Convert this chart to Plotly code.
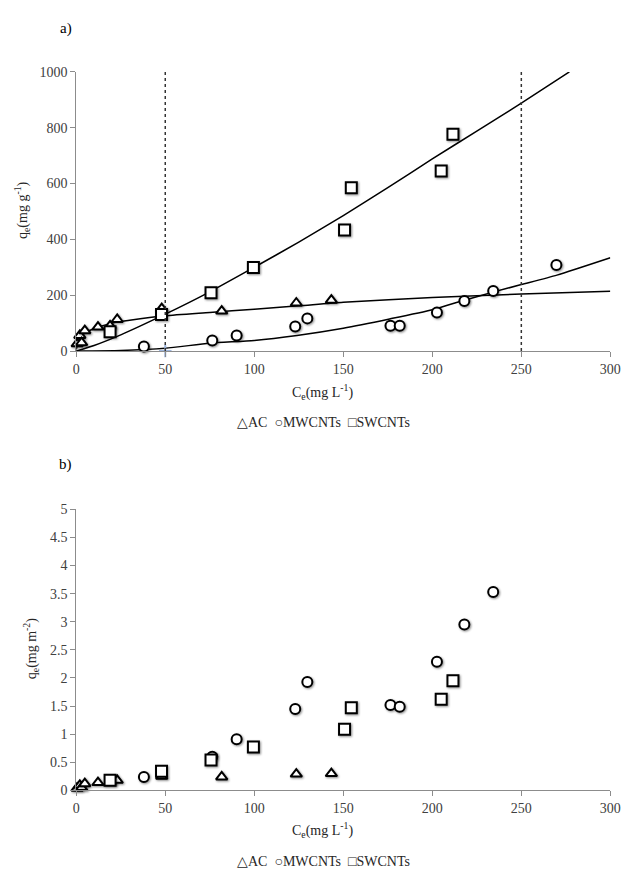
import plotly.graph_objects as go

# ---------------- data ----------------
# Panel a) qe (mg g-1) vs Ce (mg L-1); panel b) qe (mg m-2) vs Ce (mg L-1)
ac_ce = [0.5, 2, 3, 4.8, 12.2, 19, 23, 48, 81.7, 123.6, 143.3]
ac_qe_g = [26, 56, 30, 73, 86, 90, 113, 152, 143, 172, 182]
ac_qe_m2 = [0.04, 0.09, 0.05, 0.12, 0.14, 0.15, 0.18, 0.25, 0.24, 0.29, 0.30]

mw_ce = [38, 76.4, 90.1, 123, 129.8, 176.5, 181.7, 202.6, 218, 234.2, 269.7]
mw_qe_g = [16, 38, 56, 88, 117, 91, 91, 138, 179, 215, 308]
mw_qe_m2 = [0.24, 0.60, 0.91, 1.45, 1.93, 1.52, 1.49, 2.29, 2.95, 3.53, None]

sw_ce = [19, 47.9, 75.7, 99.5, 150.7, 154.5, 205, 211.6]
sw_qe_g = [69, 131, 209, 299, 434, 585, 645, 777]
sw_qe_m2 = [0.18, 0.34, 0.54, 0.77, 1.09, 1.47, 1.62, 1.95]

# fitted curves read from panel a)
sw_fit_x = [0, 10, 25, 50, 75, 100, 125, 150, 175, 200, 225, 250, 277]
sw_fit_y = [0, 20, 58, 132, 212, 300, 390, 485, 585, 688, 788, 888, 1000]
ac_fit_x = [0, 1, 2, 5, 10, 20, 30, 50, 75, 100, 125, 150, 200, 250, 300]
ac_fit_y = [5, 30, 45, 66, 80, 100, 110, 126, 138, 150, 162, 175, 192, 204, 214]
mw_fit_x = [0, 25, 50, 75, 100, 124, 150, 176, 200, 218, 234, 250, 270, 300]
mw_fit_y = [0, 2, 10, 28, 38, 56, 82, 115, 148, 182, 211, 238, 272, 334]

guide_x = [50, 250]
x_ticks = [0, 50, 100, 150, 200, 250, 300]
ya_ticks = [0, 200, 400, 600, 800, 1000]
yb_ticks = [0, 0.5, 1, 1.5, 2, 2.5, 3, 3.5, 4, 4.5, 5]
yb_labels = ["0", "0.5", "1", "1.5", "2", "2.5", "3", "3.5", "4", "4.5", "5"]

SERIF = "Liberation Serif, Times New Roman, serif"
TICK_COLOR = "#404040"
AXIS_COLOR = "#8c8c8c"

fig = go.Figure()

def markers(x, y, symbol, size, xa, ya, name):
    return go.Scatter(
        x=x, y=y, mode="markers", name=name, showlegend=False,
        xaxis=xa, yaxis=ya, cliponaxis=False,
        marker=dict(symbol=symbol, size=size, color="white",
                    line=dict(color="black", width=2)),
    )

def curve(x, y, xa, ya):
    return go.Scatter(
        x=x, y=y, mode="lines", showlegend=False, xaxis=xa, yaxis=ya,
        line=dict(color="black", width=1.5, shape="spline", smoothing=0.6),
        hoverinfo="skip",
    )

# panel a
fig.add_trace(curve(sw_fit_x, sw_fit_y, "x", "y"))
fig.add_trace(curve(ac_fit_x, ac_fit_y, "x", "y"))
fig.add_trace(curve(mw_fit_x, mw_fit_y, "x", "y"))
fig.add_trace(go.Scatter(x=[guide_x[0]], y=[0], mode="markers", showlegend=False,
                         cliponaxis=False, xaxis="x", yaxis="y",
                         marker=dict(symbol="cross-thin", size=9,
                                     line=dict(color="#9db5dd", width=2))))
fig.add_trace(markers(ac_ce, ac_qe_g, "triangle-up", 10, "x", "y", "AC"))
fig.add_trace(markers(mw_ce, mw_qe_g, "circle", 10, "x", "y", "MWCNTs"))
fig.add_trace(markers(sw_ce, sw_qe_g, "square", 11, "x", "y", "SWCNTs"))

# panel b
fig.add_trace(markers(ac_ce, ac_qe_m2, "triangle-up", 10, "x2", "y2", "AC"))
fig.add_trace(markers(mw_ce, mw_qe_m2, "circle", 10, "x2", "y2", "MWCNTs"))
fig.add_trace(markers(sw_ce, sw_qe_m2, "square", 11, "x2", "y2", "SWCNTs"))

W, H = 635, 880
xdom = [74 / W, 621 / W]

common_x = dict(range=[0, 300], tickvals=x_ticks, showgrid=False, zeroline=False,
                showline=True, linecolor=AXIS_COLOR, linewidth=1,
                ticks="outside", ticklen=5, tickcolor=AXIS_COLOR,
                tickfont=dict(family=SERIF, size=14, color=TICK_COLOR))
common_y = dict(showgrid=False, zeroline=False, showline=True, linecolor=AXIS_COLOR,
                linewidth=1, ticks="outside", ticklen=5, tickcolor=AXIS_COLOR,
                tickfont=dict(family=SERIF, size=14, color=TICK_COLOR))

shapes = []
for gx in guide_x:
    shapes.append(dict(type="line", xref="x", yref="y", x0=gx, x1=gx, y0=0, y1=1000,
                       line=dict(color="#333333", width=1.5, dash="dot")))

legend_txt = "△AC  ○MWCNTs  □SWCNTs"

def ann(text, x, y, size=14, angle=0, color="#262626"):
    return dict(text=text, x=x, y=y, xref="paper", yref="paper", showarrow=False,
                textangle=angle, xanchor="center", yanchor="middle",
                font=dict(family=SERIF, size=size, color=color))

annotations = [
    ann("a)", 63 / W, 1 - 22 / H, 15, color="black"),
    ann("b)", 63 / W, 1 - 465 / H, 15, color="black"),
    ann("q<sub>e</sub>(mg g<sup>-1</sup>)", 19 / W, 1 - 207 / H, 14, -90),
    ann("q<sub>e</sub>(mg m<sup>-2</sup>)", 28 / W, 1 - 653 / H, 14, -90),
    ann("C<sub>e</sub>(mg L<sup>-1</sup>)", 326 / W, 1 - 392 / H, 14),
    ann("C<sub>e</sub>(mg L<sup>-1</sup>)", 326 / W, 1 - 837 / H, 14),
    ann(legend_txt, 327 / W, 1 - 423 / H, 14),
    ann(legend_txt, 327 / W, 1 - 869 / H, 14),
]

fig.update_layout(
    width=W, height=H,
    margin=dict(l=0, r=0, t=0, b=0),
    paper_bgcolor="white", plot_bgcolor="white",
    showlegend=False,
    xaxis=dict(domain=xdom, anchor="y", **common_x),
    yaxis=dict(domain=[1 - 350 / H, 1 - 66 / H], anchor="x", range=[0, 1000],
               tickvals=ya_ticks, **common_y),
    xaxis2=dict(domain=xdom, anchor="y2", **common_x),
    yaxis2=dict(domain=[1 - 797 / H, 1 - 511 / H], anchor="x2", range=[0, 5],
                tickvals=yb_ticks, ticktext=yb_labels, **common_y),
    shapes=shapes,
    annotations=annotations,
)

post = (
    "document.body.style.margin='0';document.body.style.overflow='hidden';"
    "document.querySelectorAll('.scatterlayer .point').forEach(function(p){"
    "if(p.style.stroke.indexOf('0, 0, 0')>=0){"
    "p.style.filter='drop-shadow(1px 1.5px 1px rgba(0,0,0,0.45))';}});"
)

fig.write_html("out.html", config={"displayModeBar": False}, post_script=post)
